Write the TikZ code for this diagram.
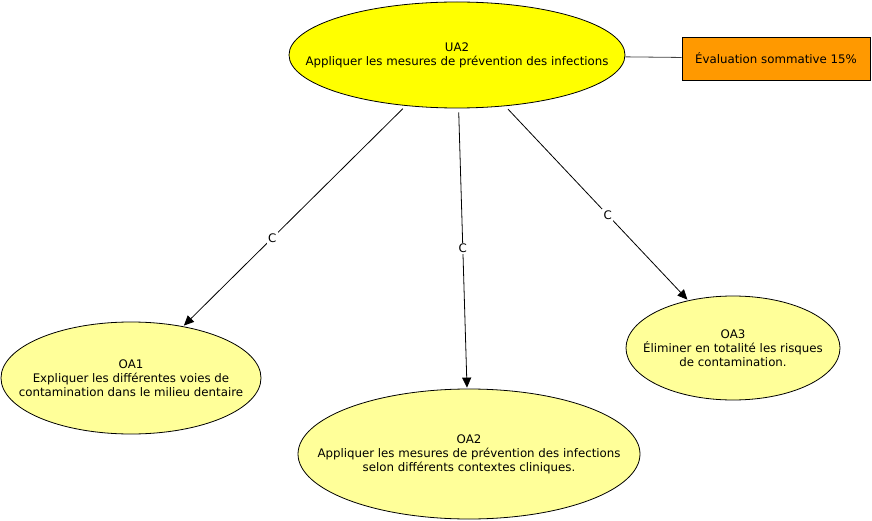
\documentclass[tikz,border=0pt]{standalone}
\usepackage{fontspec}
\setmainfont{DejaVu Sans}
\usetikzlibrary{shapes.geometric,arrows.meta}
\definecolor{uayellow}{RGB}{255,255,0}
\definecolor{oayellow}{RGB}{255,255,153}
\definecolor{evalorange}{RGB}{255,153,0}
\tikzset{
  every node/.style={font=\fontsize{11.8}{14}\selectfont},
  concept/.style={ellipse, draw=black, line width=0.8pt, inner sep=0pt},
  ctext/.style={align=center, inner sep=0pt},
  evalbox/.style={rectangle, draw=black, line width=0.8pt, fill=evalorange, inner sep=0pt, minimum width=188pt, minimum height=43pt},
  link/.style={draw=black, line width=0.8pt, -{Triangle[length=10pt,width=9pt]}, shorten <=4pt, shorten >=1pt},
  lbl/.style={fill=white, inner sep=1.5pt}
}
\begin{document}
\begin{tikzpicture}[x=1pt,y=-1pt]
\useasboundingbox (0,0) rectangle (872,521);
\node[concept, fill=uayellow, minimum width=336pt, minimum height=106pt] (ua2) at (457,55) {};
\node[ctext] (ua2t) at (ua2) {UA2\\Appliquer les mesures de prévention des infections};
\node[evalbox] (eval) at (776,58.5) {Évaluation sommative 15\%};
\node[concept, fill=oayellow, minimum width=260pt, minimum height=112pt] (oa1) at (131,378) {};
\node[ctext] (oa1t) at (oa1) {OA1\\Expliquer les différentes voies de\\contamination dans le milieu dentaire};
\node[concept, fill=oayellow, minimum width=342pt, minimum height=130pt] (oa2) at (469,454) {};
\node[ctext] (oa2t) at (oa2) {OA2\\Appliquer les mesures de prévention des infections\\selon différents contextes cliniques.};
\node[concept, fill=oayellow, minimum width=214pt, minimum height=104pt] (oa3) at (733,348) {};
\node[ctext] (oa3t) at (oa3) {OA3\\Éliminer en totalité les risques\\de contamination.};
\draw[draw=black!75, line width=0.8pt] (ua2) -- (eval);
\draw[link] (ua2) -- node[lbl, pos=0.6] {C} (oa1);
\draw[link] (ua2) -- node[lbl, pos=0.5] {C} (oa2);
\draw[link] (ua2) -- node[lbl, pos=0.56] {C} (oa3);
\end{tikzpicture}
\end{document}
